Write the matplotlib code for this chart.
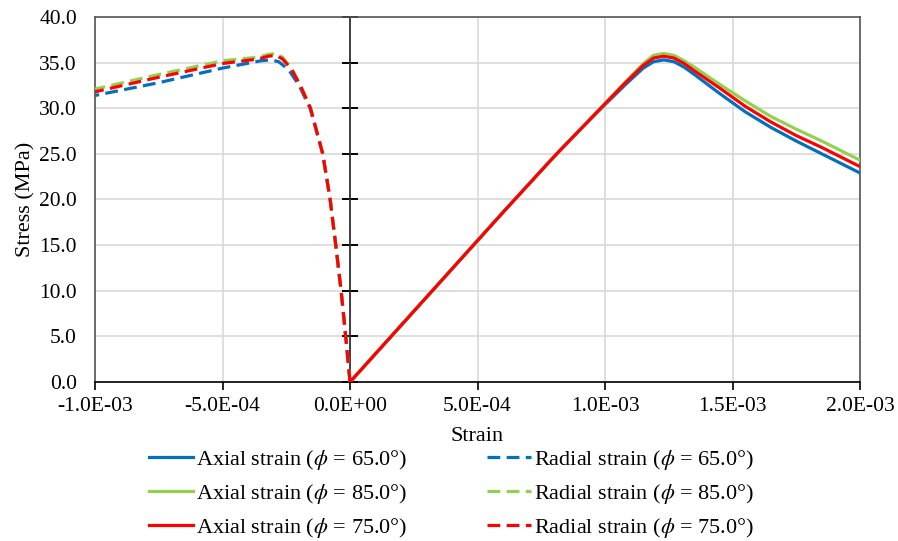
import matplotlib
matplotlib.use("Agg")
import matplotlib.pyplot as plt
import numpy as np

plt.rcParams["font.family"] = ["Liberation Serif", "DejaVu Serif"]
plt.rcParams["mathtext.fontset"] = "stix"

# axial strain (x1e-3) and stress (MPa)
axial_strain = [0, 0.2, 0.4, 0.6, 0.8, 0.9, 1.0, 1.08, 1.15, 1.19, 1.23, 1.27,
                1.31, 1.35, 1.45, 1.55, 1.65, 1.75, 1.85, 2.0]
axial_65 = [0, 6.2, 12.4, 18.6, 24.7, 27.6, 30.4, 32.6, 34.4, 35.1, 35.3, 35.1,
            34.5, 33.7, 31.6, 29.6, 27.9, 26.4, 25.0, 22.9]
axial_85 = [0, 6.2, 12.4, 18.6, 24.7, 27.6, 30.5, 32.9, 34.9, 35.8, 36.0, 35.8,
            35.2, 34.5, 32.6, 30.8, 29.1, 27.7, 26.4, 24.3]
axial_75 = [0, 6.2, 12.4, 18.6, 24.7, 27.6, 30.5, 32.8, 34.7, 35.5, 35.7, 35.5,
            34.9, 34.1, 32.2, 30.2, 28.5, 27.0, 25.7, 23.6]

# radial strain (x1e-4) and stress (MPa)
radial_strain_65 = [0, -0.17, -0.35, -0.56, -0.78, -1.07, -1.57, -2.0, -2.4,
                    -2.8, -3.1, -3.5, -5.0, -7.5, -10]
radial_65 = [0, 5, 10, 15, 20, 25, 30, 32.5, 34.2, 35.1, 35.3, 35.2, 34.4, 32.8, 31.4]
radial_strain_x = [0, -0.17, -0.35, -0.56, -0.78, -1.07, -1.55, -1.95, -2.3,
                   -2.65, -2.9, -3.2, -3.6, -5.0, -7.5, -10]
radial_85 = [0, 5, 10, 15, 20, 25, 30, 32.5, 34.4, 35.6, 36.0, 35.9, 35.6, 35.2, 33.7, 32.1]
radial_75 = [0, 5, 10, 15, 20, 25, 30, 32.5, 34.3, 35.4, 35.8, 35.7, 35.4, 34.9, 33.4, 31.8]

BLUE, GREEN, RED = "#0070C0", "#92D050", "#FF0000"
xticks = [-1e-3, -5e-4, 0, 5e-4, 1e-3, 1.5e-3, 2e-3]
xlabels = ["-1.0E-03", "-5.0E-04", "0.0E+00", "5.0E-04", "1.0E-03", "1.5E-03", "2.0E-03"]
yticks = np.arange(0, 41, 5)

fig = plt.figure(figsize=(8.98, 5.41), dpi=100)
ax = fig.add_axes([0.1058, 0.2939, 0.852, 0.6747])

ea = np.array(axial_strain) * 1e-3
lw = 2.3
axial_lines = []
radial_lines = []
for strain_r, ax_vals, rad_vals, col, phi in [
        (radial_strain_65, axial_65, radial_65, BLUE, "65.0"),
        (radial_strain_x, axial_85, radial_85, GREEN, "85.0"),
        (radial_strain_x, axial_75, radial_75, RED, "75.0")]:
    la, = ax.plot(ea, ax_vals, color=col, lw=lw, zorder=3,
                  label=rf"Axial strain ($\phi$ = {phi}°)")
    lr, = ax.plot(np.array(strain_r) * 1e-4, rad_vals, color=col, lw=lw, ls="--",
                  dashes=(4.0, 2.0), zorder=3,
                  label=rf"Radial strain ($\phi$ = {phi}°)")
    axial_lines.append(la)
    radial_lines.append(lr)

ax.set_xlim(-1e-3, 2e-3)
ax.set_ylim(0, 40)
ax.set_xticks(xticks)
ax.set_xticklabels(xlabels)
ax.set_yticks(yticks)
ax.set_yticklabels([f"{v:.1f}" for v in yticks])
ax.grid(True, color="#d9d9d9", lw=1.2)
ax.set_axisbelow(True)
ax.tick_params(axis="y", length=0, labelsize=15.5, pad=13)
ax.tick_params(axis="x", length=6, width=1.2, direction="out", labelsize=15.5, pad=5)
for s in ["top", "right", "left"]:
    ax.spines[s].set_color("#555555")
    ax.spines[s].set_linewidth(1.2)
ax.spines["bottom"].set_color("black")
ax.spines["bottom"].set_linewidth(1.2)

# y-axis at strain = 0 with crossing ticks
yax = ax.secondary_yaxis(1 / 3)
yax.set_yticks(yticks)
yax.tick_params(direction="inout", length=12, width=1.4, color="black",
                labelleft=False, labelright=False)
yax.spines["left"].set_color("#333333")
yax.spines["left"].set_linewidth(1.3)
yax.set_zorder(0.5)

ax.set_xlabel("Strain", fontsize=16, labelpad=8)
ax.set_ylabel("Stress (MPa)", fontsize=16, labelpad=3)

fig.legend(axial_lines + radial_lines,
           [l.get_label() for l in axial_lines + radial_lines],
           loc="upper center", bbox_to_anchor=(0.503, 0.188), ncol=2,
           frameon=False, fontsize=16, handlelength=1.95, columnspacing=3.6,
           labelspacing=0.44, handletextpad=0.15, borderaxespad=0)

fig.savefig("out.png", dpi=100)
